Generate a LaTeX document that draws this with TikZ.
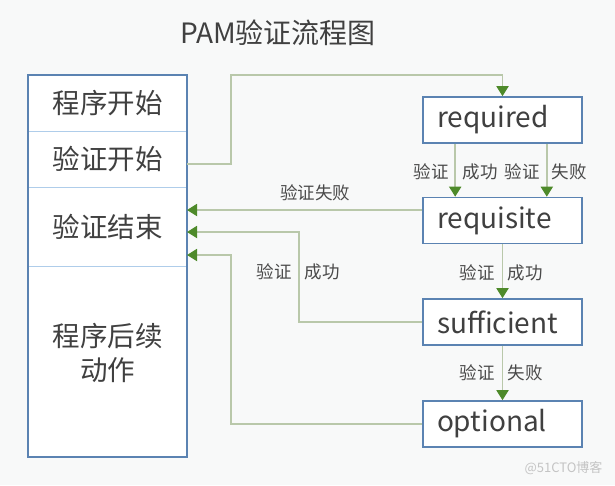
\documentclass[tikz,border=0pt]{standalone}
\usepackage{fontspec}
\setmainfont{Noto Sans CJK SC}
\usetikzlibrary{arrows.meta,calc}
\definecolor{bgc}{HTML}{F8F9F9}
\definecolor{boxblue}{HTML}{5B83B2}
\definecolor{divblue}{HTML}{AFCDEA}
\definecolor{linegreen}{HTML}{B9C8AA}
\definecolor{arrowgreen}{HTML}{4E8A2A}
\definecolor{txt}{HTML}{404040}
\definecolor{lbl}{HTML}{4A4A4A}
\definecolor{wm}{HTML}{C4C4C4}
\begin{document}
\begin{tikzpicture}[x=1pt,y=-1pt,
  seg/.style={minimum width=159pt, inner sep=0pt, font=\fontsize{27.5}{34}\selectfont, text=txt, align=center},
  modbox/.style={draw=boxblue, line width=1.6pt, fill=white, minimum width=159pt, minimum height=46pt,
     text width=131pt, inner xsep=14pt, align=left, font=\fontsize{28}{30}\selectfont, text=txt},
  conn/.style={draw=linegreen, line width=1.8pt, -{Triangle[width=12pt,length=10pt,color=arrowgreen]}},
  lab/.style={font=\fontsize{17.5}{20}\selectfont, text=lbl, inner sep=0pt}]
\useasboundingbox (0,0) rectangle (615,485);
\fill[bgc] (0,0) rectangle (615,485);

% title
\node[font=\fontsize{28}{32}\selectfont, text=txt] (title) at (278,33) {PAM验证流程图};

% left box
\fill[white] (28,75) rectangle (187,457);
\node[seg, minimum height=56pt, anchor=north west] (s1) at (28,75) {程序开始};
\node[seg, minimum height=56pt, anchor=north west] (s2) at (28,131) {验证开始};
\node[seg, minimum height=79pt, anchor=north west] (s3) at (28,187) {验证结束};
\node[seg, minimum height=191pt, anchor=north west] (s4) at (28,266) {};
\node[seg] (s4t) at ($(s4.north)+(0,87)$) {程序后续\\动作};
\draw[divblue, line width=1.2pt] (s1.south west) -- (s1.south east);
\draw[divblue, line width=1.2pt] (s2.south west) -- (s2.south east);
\draw[divblue, line width=1.2pt] (s3.south west) -- (s3.south east);
\draw[boxblue, line width=1.6pt] (28,75) rectangle (187,457);

% right boxes
\node[modbox] (req) at (502.5,120) {required};
\node[modbox] (rqs) at (502.5,220.5) {requisite};
\node[modbox] (suf) at (502.5,322) {sufficient};
\node[modbox] (opt) at (502.5,424) {optional};

% top connector
\coordinate (o2) at (187,164);
\coordinate (c1) at (231,75);
\draw[conn] (o2) -| (c1) -| (req.north);

% required -> requisite
\coordinate (ra) at ($(req.south west)+(33,0)$);
\coordinate (rb) at ($(req.south east)+(-36,0)$);
\draw[conn] (ra) -- (ra |- rqs.north);
\draw[conn] (rb) -- (rb |- rqs.north);
\node[lab] at (431,172) {验证};
\node[lab] at (480,172) {成功};
\node[lab] at (522,172) {验证};
\node[lab] at (569,172) {失败};

% requisite -> sufficient -> optional
\draw[conn] (rqs.south) -- (suf.north);
\node[lab] at (477,273) {验证};
\node[lab] at (525,273) {成功};
\draw[conn] (suf.south) -- (opt.north);
\node[lab] at (477,373) {验证};
\node[lab] at (525,373) {失败};

% returns to left box
\coordinate (e1) at (187,210);
\coordinate (e2) at (187,232);
\coordinate (e3) at (187,255);
\draw[conn] (rqs.west |- e1) -- (e1);
\node[lab] at (315,193) {验证失败};
\coordinate (k2) at (299,232);
\draw[conn] (suf.west) -| (k2) -- (e2);
\node[lab] at (274,272) {验证};
\node[lab] at (322,272) {成功};
\coordinate (k3) at (231,255);
\draw[conn] (opt.west) -| (k3) -- (e3);

% watermark
\node[font=\fontsize{13}{15}\selectfont, text=wm, anchor=east] (wmk) at (606,468) {@51CTO博客};
\end{tikzpicture}
\end{document}
